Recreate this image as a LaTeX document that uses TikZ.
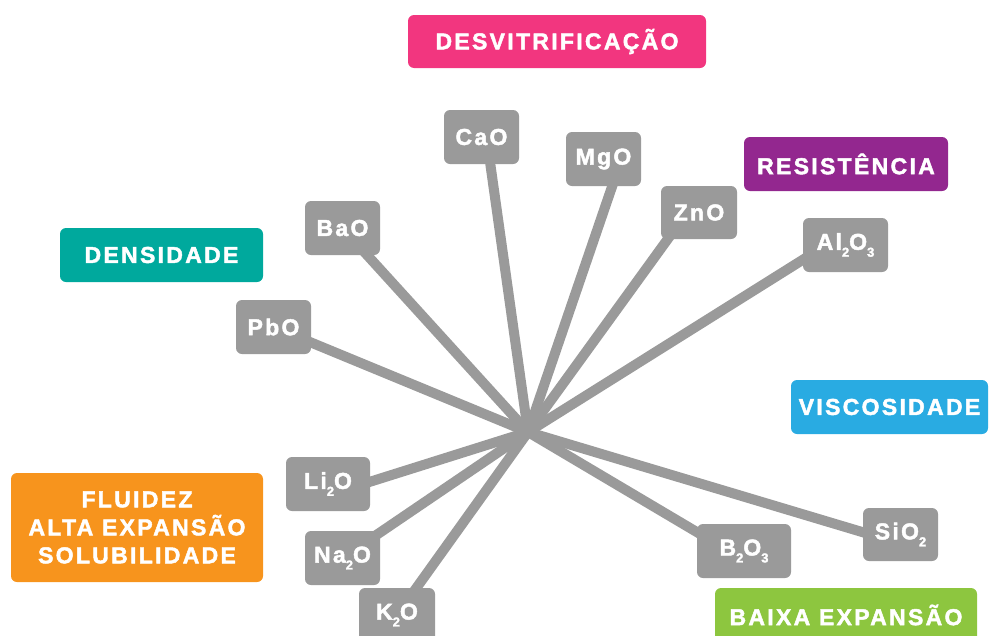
\documentclass[tikz,border=0pt]{standalone}
\usepackage{fontspec}
\setmainfont{Liberation Sans}[LetterSpace=10, BoldFeatures={FakeBold=2}]
\usetikzlibrary{backgrounds}
\definecolor{cpink}{HTML}{F2367F}
\definecolor{cpurple}{HTML}{93278F}
\definecolor{cteal}{HTML}{00A99D}
\definecolor{cblue}{HTML}{29ABE2}
\definecolor{corange}{HTML}{F7941D}
\definecolor{cgreen}{HTML}{8DC63F}
\definecolor{cgray}{HTML}{9A9A9A}
\newcommand{\sbs}[1]{\raisebox{-0.3em}{\fontsize{13}{13}\selectfont #1}}
\tikzset{
  box/.style={rectangle, rounded corners=6pt, inner sep=0pt, text=white,
    font=\fontsize{23}{28}\selectfont\bfseries, align=center},
  gbox/.style={box, fill=cgray, minimum height=54pt},
  cbox/.style={box, minimum height=54pt},
  link/.style={draw=cgray, line width=10pt}
}
\begin{document}
\begin{tikzpicture}[x=1pt,y=-1pt]
\useasboundingbox (0,0) rectangle (990,635);
\clip (0,0) rectangle (990,635);
% category boxes
\node[cbox, fill=cpink, minimum width=298pt, minimum height=53pt] (desv) at (557,41.5) {DESVITRIFICAÇÃO};
\node[cbox, fill=cpurple, minimum width=204pt] (resi) at (846,164) {RESISTÊNCIA};
\node[cbox, fill=cteal, minimum width=203pt] (dens) at (161.5,255) {DENSIDADE};
\node[cbox, fill=cblue, minimum width=197pt] (visc) at (889.5,407) {VISCOSIDADE};
\node[cbox, fill=corange, minimum width=252pt, minimum height=109pt] (flui) at (137,527.5) {FLUIDEZ\\ALTA EXPANSÃO\\SOLUBILIDADE};
\node[cbox, fill=cgreen, minimum width=262pt] (baix) at (846,615) {BAIXA EXPANSÃO};
% oxide boxes
\node[gbox, minimum width=75pt] (cao) at (481.5,137) {CaO};
\node[gbox, minimum width=75pt] (mgo) at (603.5,159) {MgO};
\node[gbox, minimum width=76pt, minimum height=53pt] (zno) at (699,212.5) {ZnO};
\node[gbox, minimum width=85pt] (alo) at (845.5,245) {Al\sbs{2}O\sbs{3}};
\node[gbox, minimum width=75pt] (bao) at (342.5,228) {BaO};
\node[gbox, minimum width=75pt] (pbo) at (273.5,327) {PbO};
\node[gbox, minimum width=84pt] (lio) at (328,484) {Li\sbs{2}O};
\node[gbox, minimum width=75pt] (nao) at (342.5,558) {Na\sbs{2}O};
\node[gbox, minimum width=76pt] (ko) at (397,615) {K\sbs{2}O};
\node[gbox, minimum width=94pt] (bo) at (744,551) {B\sbs{2}O\sbs{3}};
\node[gbox, minimum width=75pt, minimum height=53pt] (sio) at (900.5,534.5) {SiO\sbs{2}};
\coordinate (hub) at (528,432);
\begin{scope}[on background layer]
\draw[link] (hub) -- ([xshift=5pt]cao.center);
\draw[link] (hub) -- ([xshift=18pt]mgo.center);
\draw[link] (hub) -- ([xshift=-12pt]zno.center);
\draw[link] (hub) -- ([yshift=12pt]alo.center);
\draw[link] (hub) -- (bao.center);
\draw[link] (hub) -- (pbo.center);
\draw[link] (hub) -- ([yshift=-11pt]lio.center);
\draw[link] (hub) -- (nao.center);
\draw[link] (hub) -- (ko.center);
\draw[link] (hub) -- ([yshift=-9pt]bo.center);
\draw[link] (hub) -- ([yshift=-9pt]sio.center);
\end{scope}
\end{tikzpicture}
\end{document}
